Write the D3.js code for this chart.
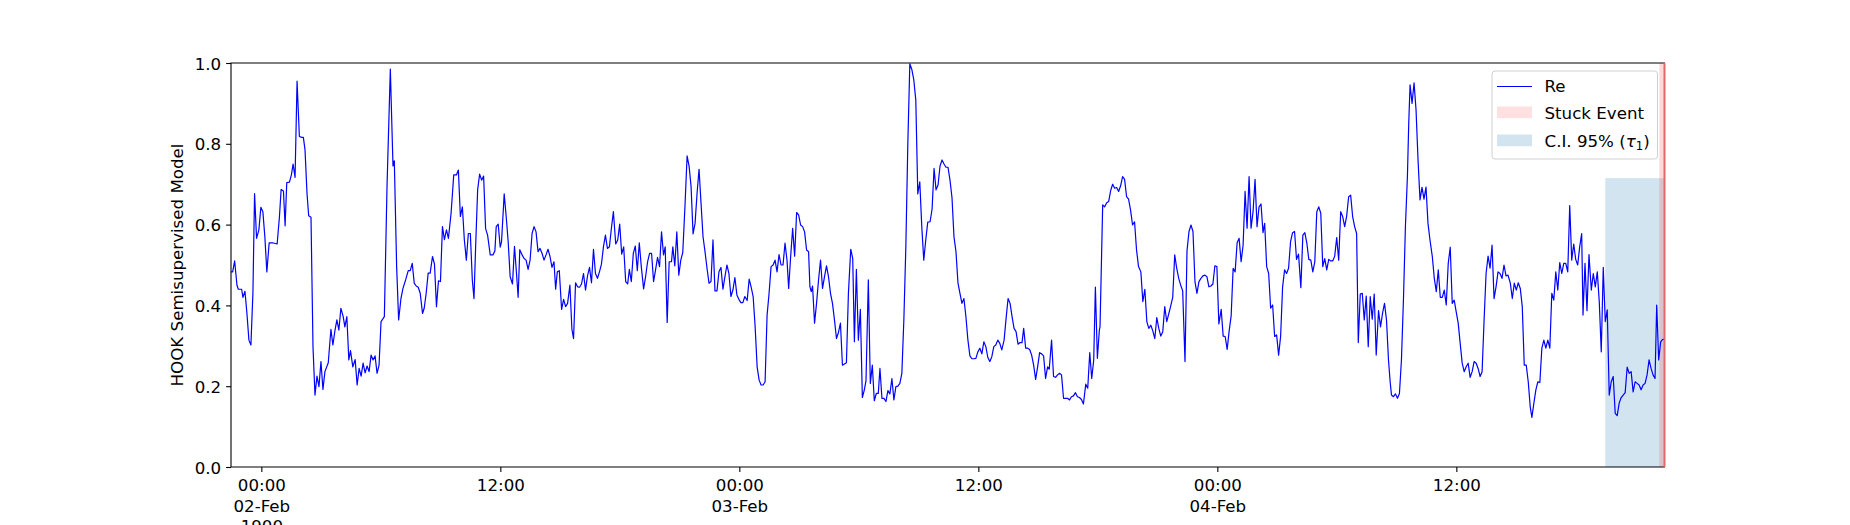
<!DOCTYPE html>
<html lang="en">
<head>
  <meta charset="UTF-8" />
  <title>HOOK Semisupervised Model</title>
  <script src="https://d3js.org/d3.v7.min.js"></script>
  <style>
    body {
      margin: 0;
      background: #fff;
    }

    svg {
      display: block;
      font-family: "DejaVu Sans", sans-serif;
    }

    .axis text {
      font-family: "DejaVu Sans", sans-serif;
      font-size: 16.67px;
      fill: #000;
    }

    .axis line {
      stroke: #000;
      stroke-width: 1.1;
    }

    .legend text {
      font-size: 16.67px;
      fill: #000;
    }
  </style>
</head>

<body>
  <svg width="1850" height="525"></svg>

  <script>
    // series starts 01-Feb-1900 22:28:36, values keyed by minutes after that
    const startTime = Date.UTC(1900, 1, 1, 22, 28, 36);
    const spanMinutes = 4320;

    // [minute, score] pairs
    const reNight1 = [[0,.483],[5,.483],[11,.51],[18,.45],[22,.44],[28,.44],[32,.44],[36,.42],[42,.435],[48,.38],[54,.314],[60,.302],[66,.43],[71,.677],[77,.566],[84,.587],[90,.643],[96,.632],[102,.57],[108,.483],[115,.555],[125,.555],[139,.552],[146,.62],[151,.687],[158,.683],[163,.597],[168,.704],[176,.705],[182,.723],[187,.75],[193,.717],[199,.955],[206,.818],[213,.816],[218,.816],[223,.785],[229,.677],[234,.622],[241,.618],[247,.298],[253,.178],[259,.225],[265,.199],[271,.261],[277,.192],[283,.236],[293,.258],[301,.341],[307,.302],[313,.337],[319,.364],[325,.339],[331,.393],[338,.372],[343,.347],[349,.372],[355,.265],[360,.288],[367,.248],[374,.266],[380,.203],[386,.244],[392,.225],[398,.257],[404,.233],[410,.25],[416,.236],[422,.277],[428,.265],[434,.275],[440,.232],[446,.252],[452,.36],[462,.372],[470,.694],[480,.985],[488,.745],[492,.758],[499,.496],[505,.364],[512,.417],[518,.442],[526,.463],[534,.486],[540,.486],[546,.504],[552,.455],[558,.448],[564,.445],[570,.43],[577,.38],[582,.393],[588,.43],[594,.48],[600,.48],[607,.521],[613,.502],[619,.397],[625,.461],[631,.459],[637,.595],[643,.563],[649,.587],[655,.566],[663,.628],[671,.723],[679,.723],[685,.735],[691,.62],[697,.644],[703,.562],[709,.512],[715,.578],[721,.578],[727,.463],[732,.417],[737,.546],[743,.686],[749,.725],[755,.71],[761,.72],[767,.59],[773,.574],[781,.525],[789,.525],[795,.535],[799,.595],[805,.601],[811,.544],[815,.558],[823,.676],[829,.62],[835,.558],[841,.471],[848,.453],[854,.546],[860,.48],[865,.42],[870,.538]];

    const reDay2 = [[877,.525],[883,.516],[889,.512],[895,.489],[901,.512],[907,.578],[913,.595],[919,.582],[925,.533],[931,.541],[937,.529],[943,.512],[949,.525],[955,.539],[961,.521],[967,.494],[973,.508],[978,.44],[983,.483],[989,.486],[996,.39],[1002,.415],[1008,.397],[1014,.405],[1021,.45],[1027,.341],[1032,.318],[1038,.456],[1044,.446],[1050,.445],[1056,.453],[1062,.479],[1068,.438],[1074,.473],[1080,.494],[1086,.456],[1092,.539],[1098,.479],[1104,.467],[1110,.483],[1116,.502],[1122,.545],[1128,.574],[1134,.541],[1140,.545],[1146,.591],[1152,.632],[1159,.552],[1165,.562],[1171,.601],[1177,.527],[1183,.545],[1189,.459],[1195,.453],[1200,.489],[1206,.459],[1212,.529],[1218,.547],[1224,.486],[1230,.555],[1236,.496],[1243,.441],[1249,.471],[1255,.508],[1261,.529],[1267,.529],[1273,.459],[1279,.488],[1285,.519],[1291,.496],[1297,.582],[1303,.525],[1308,.545],[1314,.358],[1320,.508],[1327,.508],[1331,.545],[1337,.498],[1343,.582],[1349,.475],[1355,.512],[1361,.531],[1368,.653],[1374,.77],[1380,.745],[1386,.694],[1392,.577],[1398,.603],[1404,.677],[1410,.737],[1416,.653],[1422,.57],[1428,.533],[1434,.492],[1440,.455],[1446,.459],[1452,.562],[1458,.436],[1464,.436],[1470,.483],[1476,.494],[1482,.44],[1488,.471],[1494,.5],[1500,.479],[1506,.422],[1512,.438],[1518,.469],[1524,.426],[1530,.415],[1536,.407],[1542,.407],[1548,.422],[1555,.412],[1561,.465],[1567,.445],[1573,.422],[1579,.347],[1585,.248],[1591,.215],[1597,.203],[1603,.203],[1609,.211],[1615,.376],[1621,.43],[1627,.496],[1633,.5],[1639,.512],[1645,.483],[1651,.526],[1657,.5],[1663,.5],[1669,.554],[1675,.512],[1680,.442],[1686,.521],[1692,.591],[1698,.522],[1704,.63],[1710,.624],[1716,.599],[1722,.595],[1728,.582],[1734,.537],[1740,.533]];

    const reDay3 = [[1744,.446],[1748,.434],[1752,.448],[1758,.356],[1764,.405],[1770,.463],[1776,.512],[1782,.442],[1788,.471],[1794,.498],[1800,.471],[1806,.43],[1812,.405],[1818,.364],[1824,.318],[1830,.333],[1836,.356],[1842,.252],[1848,.255],[1854,.258],[1860,.43],[1867,.539],[1873,.516],[1878,.31],[1884,.489],[1890,.314],[1896,.39],[1902,.172],[1908,.191],[1913,.214],[1920,.463],[1926,.207],[1932,.252],[1938,.164],[1944,.182],[1950,.182],[1955,.244],[1961,.17],[1967,.17],[1973,.162],[1979,.189],[1985,.181],[1991,.219],[1997,.166],[2003,.199],[2009,.2],[2015,.207],[2021,.232],[2027,.364],[2033,.545],[2039,.801],[2045,.998],[2051,.984],[2057,.958],[2063,.908],[2069,.676],[2075,.706],[2081,.595],[2087,.512],[2093,.562],[2099,.606],[2106,.607],[2112,.638],[2118,.739],[2124,.686],[2130,.698],[2136,.745],[2142,.76],[2148,.75],[2154,.742],[2160,.742],[2166,.71],[2172,.667],[2178,.57],[2184,.533],[2190,.456],[2196,.43],[2202,.405],[2208,.417],[2214,.372],[2220,.314],[2226,.275],[2232,.268],[2238,.268],[2244,.269],[2250,.285],[2256,.294],[2262,.28],[2268,.31],[2274,.298],[2280,.271],[2286,.261],[2292,.273],[2298,.298],[2304,.302],[2310,.314],[2316,.306],[2322,.29],[2329,.314],[2335,.368],[2341,.417],[2347,.405],[2353,.372],[2359,.343],[2365,.335],[2371,.304],[2377,.308],[2383,.308],[2388,.343],[2394,.294],[2400,.294],[2406,.291],[2412,.277],[2418,.252],[2424,.217],[2430,.248],[2436,.283],[2442,.28],[2448,.275],[2454,.219],[2460,.248],[2465,.242],[2472,.314],[2478,.224],[2484,.222],[2490,.228],[2496,.232],[2502,.228],[2508,.17],[2514,.17],[2520,.17],[2526,.166],[2532,.174],[2538,.176],[2544,.184],[2550,.174],[2556,.172],[2562,.167],[2568,.156],[2575,.205],[2581,.195],[2587,.283],[2593,.219],[2599,.265],[2604,.445],[2610,.269],[2616,.339]];

    const reDay4 = [[2618,.347],[2626,.649],[2632,.644],[2638,.654],[2644,.657],[2650,.684],[2656,.7],[2662,.69],[2668,.692],[2674,.682],[2680,.696],[2686,.719],[2692,.712],[2698,.669],[2704,.663],[2710,.636],[2716,.599],[2722,.607],[2728,.537],[2734,.496],[2741,.483],[2747,.409],[2753,.44],[2759,.36],[2765,.343],[2771,.351],[2777,.337],[2783,.318],[2789,.37],[2795,.343],[2801,.324],[2807,.335],[2813,.397],[2819,.36],[2825,.379],[2831,.399],[2837,.42],[2843,.525],[2849,.492],[2855,.467],[2861,.45],[2867,.436],[2874,.261],[2880,.535],[2886,.583],[2892,.599],[2898,.583],[2904,.459],[2910,.43],[2916,.459],[2922,.467],[2928,.473],[2934,.475],[2940,.471],[2946,.446],[2952,.448],[2958,.453],[2964,.498],[2970,.496],[2976,.354],[2983,.39],[2989,.324],[2995,.323],[3001,.291],[3007,.337],[3013,.374],[3019,.492],[3025,.483],[3031,.555],[3037,.566],[3043,.508],[3049,.549],[3055,.682],[3061,.591],[3067,.719],[3073,.591],[3079,.632],[3085,.712],[3091,.595],[3097,.644],[3103,.651],[3109,.58],[3114,.603],[3120,.496],[3126,.479],[3132,.393],[3138,.401],[3144,.323],[3150,.327],[3156,.277],[3162,.323],[3168,.446],[3174,.488],[3180,.479],[3186,.492],[3192,.558],[3198,.58],[3204,.583],[3210,.514],[3216,.527],[3223,.444],[3229,.574],[3235,.58],[3241,.554],[3247,.514],[3253,.512],[3259,.483],[3265,.508],[3271,.632],[3277,.644],[3283,.628],[3289,.496],[3295,.516],[3301,.488],[3307,.514],[3313,.51],[3319,.51],[3325,.522],[3331,.568],[3337,.512],[3343,.632],[3349,.62],[3355,.595],[3361,.621],[3367,.669],[3373,.673],[3379,.62],[3385,.595],[3391,.578],[3396,.308],[3402,.428],[3408,.43],[3414,.364],[3420,.423],[3426,.298],[3432,.422],[3438,.366],[3444,.428],[3450,.277],[3457,.387],[3463,.347],[3469,.38],[3475,.405],[3481,.364],[3487,.265]];

    const reEvening4 = [[3492,.211],[3496,.178],[3502,.174],[3508,.181],[3514,.17],[3520,.182],[3526,.265],[3532,.413],[3538,.595],[3544,.719],[3548,.851],[3552,.946],[3558,.9],[3564,.951],[3570,.884],[3576,.76],[3582,.661],[3588,.692],[3594,.663],[3600,.693],[3606,.603],[3612,.562],[3619,.521],[3625,.467],[3631,.434],[3637,.488],[3643,.42],[3649,.42],[3655,.438],[3661,.401],[3667,.504],[3673,.544],[3679,.405],[3685,.413],[3691,.384],[3697,.356],[3703,.306],[3709,.257],[3715,.236],[3721,.248],[3727,.257],[3733,.222],[3739,.236],[3745,.261],[3751,.257],[3757,.244],[3763,.224],[3769,.236],[3775,.364],[3781,.479],[3787,.522],[3793,.492],[3799,.549],[3805,.417],[3811,.446],[3817,.483],[3823,.479],[3829,.467],[3835,.5],[3841,.473],[3847,.475],[3854,.455],[3860,.417],[3866,.455],[3872,.438],[3878,.456],[3884,.442],[3890,.397],[3896,.252],[3902,.252],[3908,.211],[3914,.149],[3919,.123],[3925,.158],[3931,.191],[3937,.211],[3943,.209],[3949,.294],[3955,.314],[3961,.294],[3967,.314],[3973,.294],[3979,.43],[3985,.413],[3991,.483],[3997,.438],[4003,.506],[4009,.479],[4015,.504],[4021,.504],[4027,.483],[4033,.647],[4039,.512],[4045,.552],[4051,.514],[4057,.5],[4063,.545],[4069,.578],[4073,.376],[4079,.504],[4085,.387],[4091,.526],[4098,.438],[4104,.479],[4110,.446],[4116,.483],[4122,.409],[4128,.285],[4134,.494],[4140,.36],[4146,.389],[4152,.178],[4158,.211],[4164,.224],[4170,.133],[4176,.127],[4182,.158],[4188,.172],[4194,.178],[4200,.184],[4206,.247],[4212,.232],[4218,.236],[4224,.186],[4230,.211],[4236,.207],[4242,.203],[4248,.191],[4254,.203],[4260,.207],[4266,.228],[4272,.265],[4278,.244],[4284,.228],[4290,.219],[4295,.401],[4301,.265],[4307,.31],[4313,.316],[4320,.316]];

    const yTicks = [0, 0.2, 0.4, 0.6, 0.8, 1.0];
    const ciWindow = [4140, 4320];
    const ciUpper = 0.715;
    const stuckWindow = [4303, 4320];
    const legendLabels = ["Re", "Stuck Event", "C.I. 95% ("];

    const toDate = m => new Date(startTime + m * 60000);

    const series = [...reNight1, ...reDay2, ...reDay3, ...reDay4, ...reEvening4]
      .map(([m, v]) => ({ date: toDate(m), value: v }));

    const svg = d3.select("svg");
    const W = 1850, H = 525;
    const margin = { top: 63, right: 185, bottom: 58, left: 231 };

    const x = d3.scaleUtc()
      .domain([toDate(0), toDate(spanMinutes)])
      .range([margin.left, W - margin.right]);

    const y = d3.scaleLinear()
      .domain([0, 1])
      .range([H - margin.bottom, margin.top]);

    // shaded windows
    svg.append("rect")
      .attr("x", x(toDate(ciWindow[0])))
      .attr("y", y(ciUpper))
      .attr("width", x(toDate(ciWindow[1])) - x(toDate(ciWindow[0])))
      .attr("height", y(0) - y(ciUpper))
      .attr("fill", "#1f77b4")
      .attr("fill-opacity", 0.2);

    svg.append("rect")
      .attr("x", x(toDate(stuckWindow[0])))
      .attr("y", y(1))
      .attr("width", x(toDate(stuckWindow[1])) - x(toDate(stuckWindow[0])))
      .attr("height", y(0) - y(1))
      .attr("fill", "red")
      .attr("fill-opacity", 0.15);

    const line = d3.line()
      .x(d => x(d.date))
      .y(d => y(d.value));

    svg.append("path")
      .datum(series)
      .attr("fill", "none")
      .attr("stroke", "#0000ff")
      .attr("stroke-width", 1.2)
      .attr("stroke-linejoin", "round")
      .attr("d", line);

    // y axis
    const yAxis = svg.append("g")
      .attr("class", "axis")
      .attr("transform", `translate(${margin.left},0)`)
      .call(d3.axisLeft(y).tickValues(yTicks).tickFormat(d3.format(".1f"))
        .tickSize(4.9).tickPadding(4.9).tickSizeOuter(0));
    yAxis.select(".domain").remove();
    yAxis.selectAll("text").attr("dy", "0.36em");

    // x axis, 00:00 / 12:00 with day (and year on the first) underneath
    const xTicks = d3.utcHour.every(12).range(toDate(0), toDate(spanMinutes));
    const xAxis = svg.append("g")
      .attr("class", "axis")
      .attr("transform", `translate(0,${H - margin.bottom})`)
      .call(d3.axisBottom(x).tickValues(xTicks).tickFormat("")
        .tickSize(4.9).tickPadding(4.9).tickSizeOuter(0));
    xAxis.select(".domain").remove();

    const fmtTime = d3.utcFormat("%H:%M");
    const fmtDay = d3.utcFormat("%d-%b");
    xAxis.selectAll(".tick text").each(function (d, i) {
      const t = d3.select(this).attr("y", null).attr("dy", null);
      const lines = [fmtTime(d)];
      if (d.getUTCHours() === 0) lines.push(fmtDay(d));
      if (i === 0) lines.push(d3.utcFormat("%Y")(d));
      lines.forEach((s, k) => {
        t.append("tspan").attr("x", 0).attr("y", 24 + k * 20.5).text(s);
      });
    });

    // spines
    const x0 = margin.left, x1 = W - margin.right;
    const y0 = margin.top, y1 = H - margin.bottom;
    svg.append("path")
      .attr("d", `M${x1},${y0}H${x0}V${y1}H${x1}`)
      .attr("fill", "none")
      .attr("stroke", "#000")
      .attr("stroke-width", 1.1);
    svg.append("line")
      .attr("x1", x1 - 0.5).attr("x2", x1 - 0.5)
      .attr("y1", y0).attr("y2", y1)
      .attr("stroke", "#e06a6a")
      .attr("stroke-width", 2);

    // y label
    svg.append("text")
      .attr("transform", `translate(183,${(y0 + y1) / 2}) rotate(-90)`)
      .attr("text-anchor", "middle")
      .attr("font-size", "16.67px")
      .text("HOOK Semisupervised Model");

    // legend
    const legend = svg.append("g").attr("class", "legend");
    legend.append("rect")
      .attr("x", 1492).attr("y", 71)
      .attr("width", 165.5).attr("height", 88)
      .attr("rx", 3)
      .attr("fill", "#fff").attr("fill-opacity", 0.8)
      .attr("stroke", "#d0d0d0").attr("stroke-width", 1);

    const rowBase = [92, 118.5, 146.5];
    const hx = 1497, hw = 35, tx = 1544.5;

    legend.append("line")
      .attr("x1", hx).attr("x2", hx + hw)
      .attr("y1", rowBase[0] - 5.5).attr("y2", rowBase[0] - 5.5)
      .attr("stroke", "#0000ff").attr("stroke-width", 1.2);
    legend.append("rect")
      .attr("x", hx).attr("y", rowBase[1] - 12).attr("width", hw).attr("height", 11.7)
      .attr("fill", "red").attr("fill-opacity", 0.12);
    legend.append("rect")
      .attr("x", hx).attr("y", rowBase[2] - 12).attr("width", hw).attr("height", 11.7)
      .attr("fill", "#1f77b4").attr("fill-opacity", 0.2);

    legendLabels.forEach((lab, i) => {
      const t = legend.append("text").attr("x", tx).attr("y", rowBase[i]).text(lab);
      if (i === 2) {
        t.append("tspan").attr("font-style", "italic").text("τ");
        t.append("tspan").attr("font-size", "11.7px").attr("dy", 3.5).text("1");
        t.append("tspan").attr("dy", -3.5).text(")");
      }
    });
  </script>
</body>
</html>
